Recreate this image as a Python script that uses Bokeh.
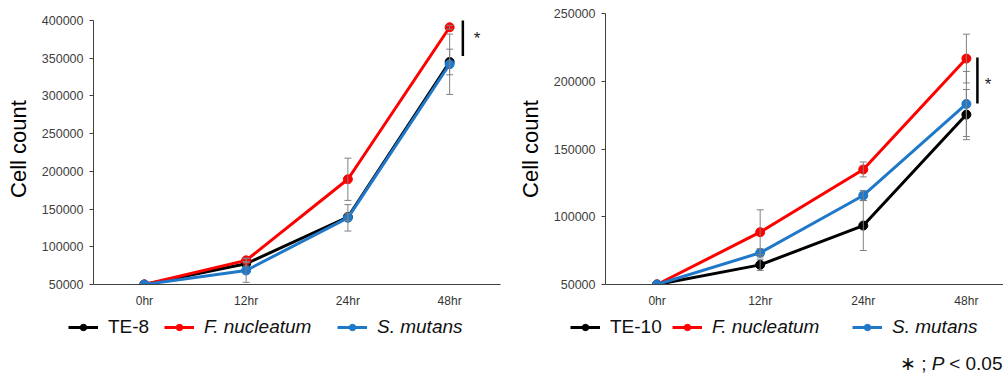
from bokeh.plotting import figure
from bokeh.layouts import row, column
from bokeh.models import (ColumnDataSource, Whisker, TeeHead, Legend, LegendItem,
                          FixedTicker, SingleIntervalTicker, BasicTickFormatter,
                          Range1d, Label)
from bokeh.core.properties import value
from bokeh.embed import file_html
from bokeh.resources import INLINE

times = ["0hr", "12hr", "24hr", "48hr"]

# TE-8 panel
te8_ctrl = [50000, 77500, 139500, 345000]
te8_ctrl_err = [0, 3000, 5000, 17000]
te8_fn = [50000, 82000, 189500, 391000]
te8_fn_err = [0, 3000, 28000, 2500]
te8_sm = [50000, 68600, 138400, 342000]
te8_sm_err = [0, 15700, 17500, 40000]

# TE-10 panel
te10_ctrl = [50000, 64500, 93500, 175400]
te10_ctrl_err = [0, 4200, 18400, 18500]
te10_fn = [50000, 88600, 134900, 216750]
te10_fn_err = [0, 16500, 5500, 18000]
te10_sm = [50000, 73400, 115700, 183250]
te10_sm_err = [0, 3000, 3700, 24000]

BLACK = "#000000"
RED = "#FF0000"
BLUE = "#1F78C8"
GREY = "#808080"
FONT = "Liberation Sans"
TOP = 13
FRAME_H = 271
TOP_H = 310


def make_panel(series, y_top, y_end, x_end, frame_w, left_b, right_b, sig):
    p = figure(output_backend="svg", toolbar_location=None,
               frame_width=frame_w, frame_height=FRAME_H,
               min_border_top=TOP, min_border_bottom=TOP_H - TOP - FRAME_H,
               min_border_left=left_b, min_border_right=right_b,
               x_range=Range1d(-0.5, x_end), y_range=Range1d(50000, y_end))
    p.outline_line_color = None
    p.xgrid.visible = False
    p.ygrid.visible = False

    xs = list(range(len(times)))
    p.xaxis.ticker = FixedTicker(ticks=xs)
    p.xaxis.major_label_overrides = {i: t for i, t in enumerate(times)}
    p.xaxis.major_tick_out = 0
    p.xaxis.major_tick_in = 0
    p.xaxis.minor_tick_out = 0
    p.xaxis.major_label_standoff = 9
    p.xaxis.major_label_text_font = FONT
    p.xaxis.major_label_text_font_size = "12px"
    p.xaxis.major_label_text_color = "#333333"
    p.xaxis.axis_line_color = "#404040"

    p.yaxis.bounds = (50000, y_top)
    p.yaxis.ticker = SingleIntervalTicker(interval=50000)
    p.yaxis.formatter = BasicTickFormatter(use_scientific=False)
    p.yaxis.major_tick_out = 4
    p.yaxis.major_tick_in = 0
    p.yaxis.minor_tick_out = 0
    p.yaxis.minor_tick_in = 0
    p.yaxis.major_label_standoff = 6
    p.yaxis.major_label_text_font = FONT
    p.yaxis.major_label_text_font_size = "12.5px"
    p.yaxis.major_label_text_color = "#404040"
    p.yaxis.axis_line_color = "#404040"
    p.yaxis.major_tick_line_color = "#404040"
    p.yaxis.axis_label = "Cell count"
    p.yaxis.axis_label_text_font = FONT
    p.yaxis.axis_label_text_font_size = "22px"
    p.yaxis.axis_label_text_font_style = "normal"
    p.yaxis.axis_label_text_color = "#000000"
    p.yaxis.axis_label_standoff = 8

    for label, vals, errs, color, italic in series:
        p.line(xs, vals, line_color=color, line_width=3)
        p.scatter(xs, vals, size=9, fill_color=color, line_color=color)
        keep = [i for i, e in enumerate(errs) if e > 0]
        src = ColumnDataSource(dict(
            x=[xs[i] for i in keep],
            upper=[vals[i] + errs[i] for i in keep],
            lower=[vals[i] - errs[i] for i in keep]))
        w = Whisker(base="x", upper="upper", lower="lower", source=src,
                    line_color=GREY, line_width=1, level="overlay",
                    upper_head=TeeHead(size=7, line_color=GREY, line_width=1),
                    lower_head=TeeHead(size=7, line_color=GREY, line_width=1))
        p.add_layout(w)

    sx, sy0, sy1, stx, sty = sig
    p.segment(x0=[sx], y0=[sy0], x1=[sx], y1=[sy1], line_color="black", line_width=2.5)
    p.text(x=[stx], y=[sty], text=["*"], text_font=value(FONT), text_font_size="17px",
           text_align="center", text_baseline="middle", y_offset=4, text_color="#222222")
    return p


series8 = [("TE-8", te8_ctrl, te8_ctrl_err, BLACK, False),
           ("F. nucleatum", te8_fn, te8_fn_err, RED, True),
           ("S. mutans", te8_sm, te8_sm_err, BLUE, True)]
series10 = [("TE-10", te10_ctrl, te10_ctrl_err, BLACK, False),
            ("F. nucleatum", te10_fn, te10_fn_err, RED, True),
            ("S. mutans", te10_sm, te10_sm_err, BLUE, True)]

# left panel: axis from 50000 to 400000 spans 264 px, frame extends 7 px above
left_end = 400000 + 350000 * (FRAME_H - 264) / 264
p1 = make_panel(series8, 400000, left_end, 3.5, 407, 93, 14,
                (3.13, 353000, 400000, 3.27, 381400))
p2 = make_panel(series10, 250000, 250000, 3.36, 398, 91, 0,
                (3.107, 183600, 217500, 3.21, 200500))

# bottom strip with legends and note
BW, BH = 1003, 63
pb = figure(output_backend="svg", toolbar_location=None, width=BW, height=BH,
            min_border=0, x_axis_type=None, y_axis_type=None,
            x_range=Range1d(0, BW), y_range=Range1d(0, BH))
pb.outline_line_color = None
pb.xgrid.visible = False
pb.ygrid.visible = False

legend_x = [68, 164, 337, 570, 672, 852]
xs_all = list(range(len(times)))
for (label, vals, errs, color, italic), lx in zip(series8 + series10, legend_x):
    # legend-only renderers: the series drawn far outside this strip's visible range
    lr = pb.line(xs_all, vals, line_color=color, line_width=3)
    sr = pb.scatter(xs_all, vals, size=6, fill_color=color, line_color=color)
    leg = Legend(items=[LegendItem(label=label, renderers=[lr, sr])],
                 location=(lx, BH - 6 - 22), orientation="horizontal",
                 padding=0, margin=0, spacing=0,
                 border_line_color=None, background_fill_alpha=0,
                 glyph_width=30, glyph_height=16, label_height=22, label_standoff=10,
                 label_text_font=FONT, label_text_font_size="19px",
                 label_text_color="#111111",
                 label_text_font_style="italic" if italic else "normal")
    pb.add_layout(leg)

note_y = 10
pb.add_layout(Label(x=1002, y=note_y, x_units="screen", y_units="screen", text="\u00a0< 0.05",
                    text_font=FONT, text_font_size="19px", text_align="right",
                    text_baseline="middle", text_color="#111111"))
pb.add_layout(Label(x=944, y=note_y, x_units="screen", y_units="screen", text="P",
                    text_font=FONT, text_font_size="19px", text_align="right",
                    text_font_style="italic", text_baseline="middle", text_color="#111111"))
pb.add_layout(Label(x=926, y=note_y, x_units="screen", y_units="screen", text="\u2217 ;",
                    text_font=FONT, text_font_size="19px", text_align="right",
                    text_baseline="middle", text_color="#111111"))

layout = column(row(p1, p2), pb)
open("out.html", "w").write(file_html(layout, INLINE))
